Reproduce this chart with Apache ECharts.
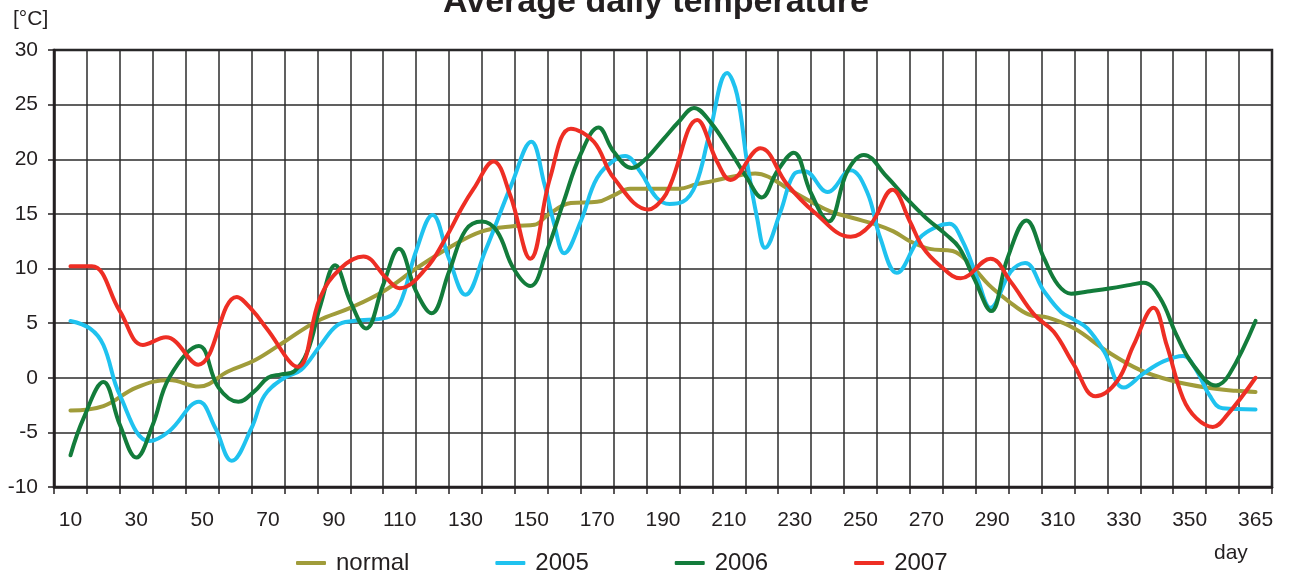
<!DOCTYPE html>
<html>
<head>
<meta charset="utf-8">
<script src="https://cdn.jsdelivr.net/npm/echarts@6/dist/echarts.min.js"></script>
<style>html,body{margin:0;padding:0;background:#fff;}#chart{width:1292px;height:574px;}</style>
</head>
<body>
<div id="chart"></div>
<script>
// x categories (10-day steps, last one 365)
const categories = ['10','20','30','40','50','60','70','80','90','100','110','120','130','140','150','160','170','180','190','200','210','220','230','240','250','260','270','280','290','300','310','320','330','340','350','360','365'];
const seriesNames = ['normal','2005','2006','2007'];
// [day, °C]
const normal = [[10,-3.0],[20,-2.6],[30,-0.9],[40,-0.2],[49,-0.8],[58,0.6],[66,1.6],[75,3.3],[85,5.2],[95,6.4],[105,7.9],[115,10.0],[125,11.9],[135,13.4],[145,13.9],[151,14.0],[155,14.9],[162,16.0],[170,16.1],[175,16.7],[180,17.3],[190,17.3],[195,17.3],[200,17.7],[205,18.0],[211,18.4],[218,18.7],[222,18.4],[228,17.3],[235,16.1],[241,15.2],[248,14.6],[255,14.0],[260,13.4],[265,12.5],[271,11.8],[278,11.6],[283,10.5],[289,8.5],[295,7.0],[301,5.8],[307,5.5],[315,4.5],[325,2.4],[335,0.7],[345,-0.3],[355,-0.9],[362,-1.2],[365,-1.3]];
const y2005 = [[10,5.2],[16,4.5],[20,3.0],[25,-1.6],[34,-5.8],[40,-4.9],[49,-2.2],[54,-4.6],[59,-7.6],[65,-4.6],[69,-1.6],[75,0.0],[80,0.7],[86,3.0],[91,4.8],[96,5.2],[106,5.5],[110,6.7],[115,11.6],[120,14.9],[125,10.9],[130,7.6],[136,11.6],[144,17.7],[150,21.6],[154,17.7],[157,14.0],[160,11.4],[165,14.3],[170,18.3],[176,20.1],[178.5,20.3],[183,18.9],[188,16.5],[192,15.9],[196,16.1],[200,17.7],[204,22.2],[209.5,27.9],[212.5,25.9],[215.5,19.8],[218.6,14.6],[221,11.9],[225.7,15.2],[229.7,18.6],[233,18.9],[240,17.0],[247,19.0],[252,17.0],[256,12.8],[261,9.6],[268,12.8],[273,13.8],[277,14.1],[281,12.5],[285.5,9.1],[289.5,6.4],[295.6,9.7],[300,10.5],[305.8,7.9],[311,6.0],[315,5.3],[319,4.5],[324,2.4],[330,-0.9],[336,0.4],[342,1.5],[348,2.0],[352,0.7],[356,-1.6],[360,-2.8],[365,-2.9]];
const y2006 = [[10,-7.1],[14,-3.7],[20,-0.4],[25,-4.3],[30,-7.3],[35,-4.3],[40,0.0],[49,2.9],[55,-0.9],[61,-2.2],[66,-1.2],[70,0.0],[74,0.3],[78,0.6],[82,2.4],[86,6.7],[90.4,10.3],[95,7.0],[99.8,4.5],[105,8.5],[109.8,11.8],[115,7.9],[119.7,5.9],[125,9.7],[130,13.5],[135,14.3],[139.6,13.4],[144.6,10.0],[149.7,8.4],[154.7,11.6],[159.8,16.1],[164.9,20.4],[170.4,22.9],[175,20.7],[180.5,19.2],[185,20.1],[190,21.8],[195,23.5],[199.4,24.7],[204.4,23.4],[210.5,20.7],[215.5,18.3],[220,16.5],[224.7,18.9],[229.7,20.6],[234.8,17.0],[240.3,14.3],[246,18.9],[251,20.4],[258,18.4],[264,16.4],[270,14.6],[276,13.1],[280,11.9],[284.5,9.1],[289.7,6.1],[294.6,10.9],[300.4,14.4],[305.8,10.9],[310,8.5],[314,7.7],[319,7.9],[326,8.2],[332,8.5],[336,8.7],[341,7.3],[346,3.9],[351,1.2],[358,-0.7],[361,0.3],[365,5.2]];
const y2007 = [[10,10.2],[16.5,10.2],[25,6.1],[32,3.0],[39,3.7],[48.8,1.2],[60.5,7.4],[65.5,6.1],[69.6,4.5],[79,1.0],[85.8,7.3],[92,10.0],[99,11.1],[106,9.1],[110,8.2],[118,10.0],[124,12.8],[129,15.6],[132.5,17.3],[138.5,19.8],[143.6,16.7],[149.7,10.9],[155.7,18.3],[162,22.8],[169,21.6],[175,18.3],[185.6,15.4],[190,16.4],[192.3,17.7],[200.4,23.6],[206.4,19.8],[210.5,18.1],[219.6,21.0],[227.7,17.7],[235.8,15.2],[247,12.9],[253,14.0],[259.7,17.2],[265,14.3],[269,11.9],[274,10.3],[280.4,9.1],[289.5,10.9],[295.6,8.8],[302.7,5.8],[308.7,4.2],[314.8,1.2],[321.4,-1.7],[328,-0.3],[333,3.0],[339,6.4],[343,3.0],[348,-1.9],[352,-3.7],[357,-4.5],[360.7,-3.4],[365,0.0]];
const seriesData = [normal, y2005, y2006, y2007];
const colors = ['#a09c3a','#1fc2ef','#137c3b','#ee2e24'];

// position of a day on the category scale (one slot per category)
function dayToPos(d){ return d <= 360 ? (d - 10) / 10 : 35 + (d - 360) / 5; }

const FONT = 'Liberation Sans, Arial, sans-serif';
const TXT = '#231f20';
const chart = echarts.init(document.getElementById('chart'), null, {renderer:'canvas'});
chart.setOption({
  animation:false,
  backgroundColor:'#fff',
  title:{text:'Average daily temperature', left:438, top:-19,
    textStyle:{fontSize:34, fontWeight:'bold', color:TXT, fontFamily:FONT}},
  legend:{data:seriesNames, left:291, top:546, itemWidth:30, itemHeight:4, itemGap:86, icon:'roundRect',
    textStyle:{fontSize:24, color:TXT, fontFamily:FONT, padding:[0,0,0,5]}},
  grid:{left:54, right:20, top:50, bottom:87, show:true, borderColor:'#231f20', borderWidth:2.5, backgroundColor:'transparent'},
  xAxis:[
    {type:'category', data:categories, boundaryGap:true,
     axisLine:{onZero:false, lineStyle:{color:'#231f20', width:2.5}},
     axisTick:{show:true, interval:0, length:7, lineStyle:{color:'#231f20', width:1.5}},
     axisLabel:{interval:1, fontSize:21, color:TXT, fontFamily:FONT, margin:23},
     splitLine:{show:true, interval:0, lineStyle:{color:'#2b2b2b', width:1.5}}},
    {type:'value', min:-0.5, max:36.5, show:false, axisLine:{onZero:false}}
  ],
  yAxis:{type:'value', min:-10, max:30, interval:5,
     axisLine:{show:true, onZero:false, lineStyle:{color:'#231f20', width:2.5}},
     axisTick:{show:true, length:6, lineStyle:{color:'#231f20', width:1.5}},
     axisLabel:{fontSize:21, color:TXT, fontFamily:FONT, margin:16},
     splitLine:{show:true, lineStyle:{color:'#2b2b2b', width:1.5}}},
  graphic:[
    {type:'text', left:13, top:9, style:{text:'[°C]', fontSize:21, fill:TXT, fontFamily:FONT}},
    {type:'text', left:1214, top:543, style:{text:'day', fontSize:21, fill:TXT, fontFamily:FONT}}
  ],
  series: seriesNames.map((n,i)=>({
    name:n, type:'line', xAxisIndex:1, smooth:0.4, showSymbol:false, symbol:'none',
    lineStyle:{width:4, color:colors[i], cap:'round', join:'round'}, itemStyle:{color:colors[i]},
    data: seriesData[i].map(p=>[dayToPos(p[0]), p[1]])
  }))
});
</script>
</body>
</html>
